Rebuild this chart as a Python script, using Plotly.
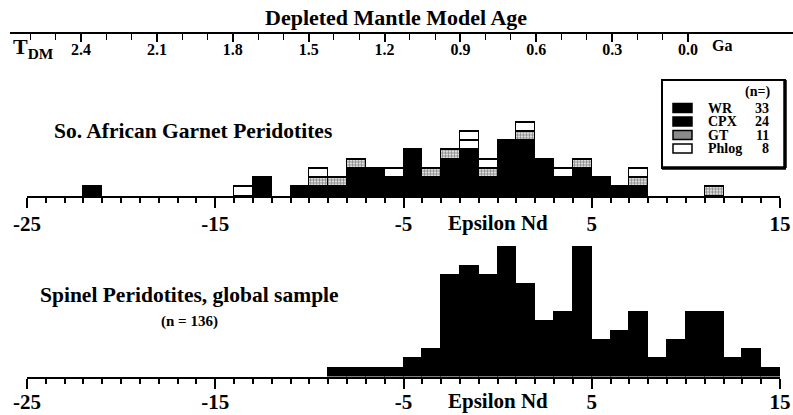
import plotly.graph_objects as go

# ---------------- data ----------------
# Top panel: So. African garnet peridotites, counts per 1-unit Epsilon Nd bin (bin left edge)
top_bin_left = [-22, -14, -13, -11, -10, -9, -8, -7, -6, -5, -4, -3, -2, -1, 0, 1, 2, 3, 4, 5, 6, 7, 11]
top_wr_cpx   = [1, 0, 2, 1, 1, 1, 3, 3, 2, 5, 2, 4, 5, 2, 6, 6, 4, 2, 3, 2, 1, 1, 0]
top_gt       = [0, 0, 0, 0, 1, 1, 1, 0, 0, 0, 1, 1, 0, 1, 0, 1, 0, 0, 1, 0, 0, 1, 1]
top_phlog    = [0, 1, 0, 0, 1, 0, 0, 0, 1, 0, 0, 0, 2, 1, 0, 1, 0, 1, 0, 0, 0, 1, 0]

# Bottom panel: spinel peridotites, global sample (n = 136)
bot_bin_left = list(range(-9, 15))
bot_counts   = [1, 1, 1, 1, 2, 3, 11, 12, 11, 14, 10, 6, 7, 14, 4, 5, 7, 2, 4, 7, 7, 2, 3, 1]

# Axis ticks
eps_ticks = [-25, -15, -5, 5, 15]
eps_ticktext = ["-25", "-15", "-5", "5", "15"]
tdm_ticks = [2.4, 2.1, 1.8, 1.5, 1.2, 0.9, 0.6, 0.3, 0.0]
tdm_ticktext = ["2.4", "2.1", "1.8", "1.5", "1.2", "0.9", "0.6", "0.3", "0.0"]
tdm_minor = [2.6, 2.5, 2.3, 2.2, 2.0, 1.9, 1.7, 1.6, 1.4, 1.3, 1.1, 1.0, 0.8, 0.7, 0.5, 0.4, 0.2, 0.1]

legend_names = ["WR", "CPX", "GT", "Phlog"]
legend_n = ["33", "24", "11", "8"]

# ---------------- layout helpers ----------------
W, H = 793, 415
def PX(x):
    return x / W
def PY(y):
    return 1 - y / H

SERIF = "Liberation Serif"
def f(size):
    return dict(family=SERIF, size=size, color="black", weight="bold")

def nz(v):
    return [None if a == 0 else a for a in v]

top_x = [b + 0.5 for b in top_bin_left]
bot_x = [b + 0.5 for b in bot_bin_left]

fig = go.Figure()
line = dict(color="black", width=1.5)

fig.add_bar(x=top_x, y=nz(top_wr_cpx), width=1, marker=dict(color="black", line=line),
            xaxis="x", yaxis="y", name="WR + CPX")
fig.add_bar(x=top_x, y=nz(top_gt), width=1,
            marker=dict(color="white", line=line,
                        pattern=dict(shape=".", fgcolor="black", bgcolor="white", size=3, solidity=0.55)),
            xaxis="x", yaxis="y", name="GT")
# phlog drawn as one box per sample
for k in range(max(top_phlog)):
    layer = [1 if p > k else 0 for p in top_phlog]
    fig.add_bar(x=top_x, y=nz(layer), width=1, marker=dict(color="white", line=line),
                xaxis="x", yaxis="y", name="Phlog")

fig.add_bar(x=bot_x, y=bot_counts, width=1, marker=dict(color="black", line=dict(color="black", width=1)),
            xaxis="x2", yaxis="y2", name="Spinel")

# dummy trace to host the T_DM axis
fig.add_scatter(x=[1.0], y=[-5], xaxis="x3", yaxis="y3", mode="markers",
                marker=dict(opacity=0), showlegend=False, hoverinfo="skip")

unit = 9.25
top_base, bot_base = 196, 376.5
xdom = [PX(27), PX(780)]

eps_axis = dict(range=[-25, 15], domain=xdom, showline=True, linecolor="black", linewidth=2,
                ticks="outside", tickvals=eps_ticks, ticktext=eps_ticktext, ticklen=10, tickwidth=2,
                tickcolor="black", tickfont=f(21), showgrid=False, zeroline=False,
                ticklabelstandoff=-2, automargin=False,
                minor=dict(dtick=1, tick0=-25, ticks="outside", ticklen=5, tickwidth=1.5, tickcolor="black"))

# T_DM axis mapping: 0.0 Ga at px 688, 2.4 Ga at px 81
g0, g24 = 688, 81
tl, tr = 10, 793
ga_left = 2.4 * (g0 - tl) / (g0 - g24)
ga_right = 2.4 * (g0 - tr) / (g0 - g24)
tdm_y = 32

fig.update_layout(
    width=W, height=H, margin=dict(l=0, r=0, t=0, b=0, autoexpand=False),
    paper_bgcolor="white", plot_bgcolor="rgba(0,0,0,0)",
    barmode="stack", bargap=0, showlegend=False,
    xaxis=dict(eps_axis, anchor="y"),
    yaxis=dict(domain=[PY(top_base), PY(top_base - unit * 10)], range=[0, 10], visible=False, automargin=False),
    xaxis2=dict(eps_axis, anchor="y2", ticklabelstandoff=-5),
    yaxis2=dict(domain=[PY(bot_base), PY(bot_base - unit * 15)], range=[0, 15], visible=False, automargin=False),
    xaxis3=dict(domain=[PX(tl), PX(tr)], range=[ga_left, ga_right], anchor="y3",
                showline=True, linecolor="black", linewidth=1.5, ticks="outside",
                tickvals=tdm_ticks, ticktext=tdm_ticktext, ticklen=8, tickwidth=1.5, tickcolor="black",
                tickfont=f(16), showgrid=False, zeroline=False, ticklabelstandoff=-6, automargin=False,
                minor=dict(tickvals=tdm_minor, ticks="outside", ticklen=6, tickwidth=1.2, tickcolor="black")),
    yaxis3=dict(domain=[PY(tdm_y), PY(tdm_y - 5)], range=[0, 1], visible=False, automargin=False),
)

ann = []
def A(text, x, y, size, xanchor="center", xref="paper"):
    ann.append(dict(text=text, x=x, y=PY(y), xref=xref, yref="paper", xanchor=xanchor,
                    yanchor="middle", showarrow=False, font=f(size), borderpad=0))

A("Depleted Mantle Model Age", PX(396), 17, 22)
A("T<sub>DM</sub>", PX(33), 48, 22)
A("Ga", PX(722), 46, 16)
A("So. African Garnet Peridotites", PX(193), 131, 21.5)
A("Spinel Peridotites, global sample", PX(189), 295, 21.5)
A("(n = 136)", PX(189), 321, 15)
A("Epsilon Nd", 0.0, 223, 21, xref="x")
A("Epsilon Nd", 0.0, 401, 21, xref="x2")

# legend box
shapes = []
bx0, bx1, by0, by1 = 662, 785, 80, 168
shapes.append(dict(type="rect", xref="paper", yref="paper", x0=PX(bx0), x1=PX(bx1), y0=PY(by0), y1=PY(by1),
                   line=dict(color="black", width=2), fillcolor="white", layer="above"))
shapes.append(dict(type="line", xref="paper", yref="paper", x0=PX(bx0), x1=PX(bx1 + 1), y0=PY(by1), y1=PY(by1),
                   line=dict(color="black", width=3.5), layer="above"))
shapes.append(dict(type="line", xref="paper", yref="paper", x0=PX(bx1), x1=PX(bx1), y0=PY(by0), y1=PY(by1),
                   line=dict(color="black", width=3.5), layer="above"))
A("(n=)", PX(757), 92, 14)
row_y = [108, 121.5, 135, 148.5]
sw_fill = ["black", "black", "#8a8a8a", "white"]
for name, n, yy, fc in zip(legend_names, legend_n, row_y, sw_fill):
    shapes.append(dict(type="rect", xref="paper", yref="paper", x0=PX(673), x1=PX(692),
                       y0=PY(yy + 4.5), y1=PY(yy - 4.5), line=dict(color="black", width=1.5),
                       fillcolor=fc, layer="above"))
    A(name, PX(707), yy, 14, "left")
    A(n, PX(770), yy, 14, "right")

fig.update_layout(annotations=ann, shapes=shapes)
fig.write_html("out.html")
